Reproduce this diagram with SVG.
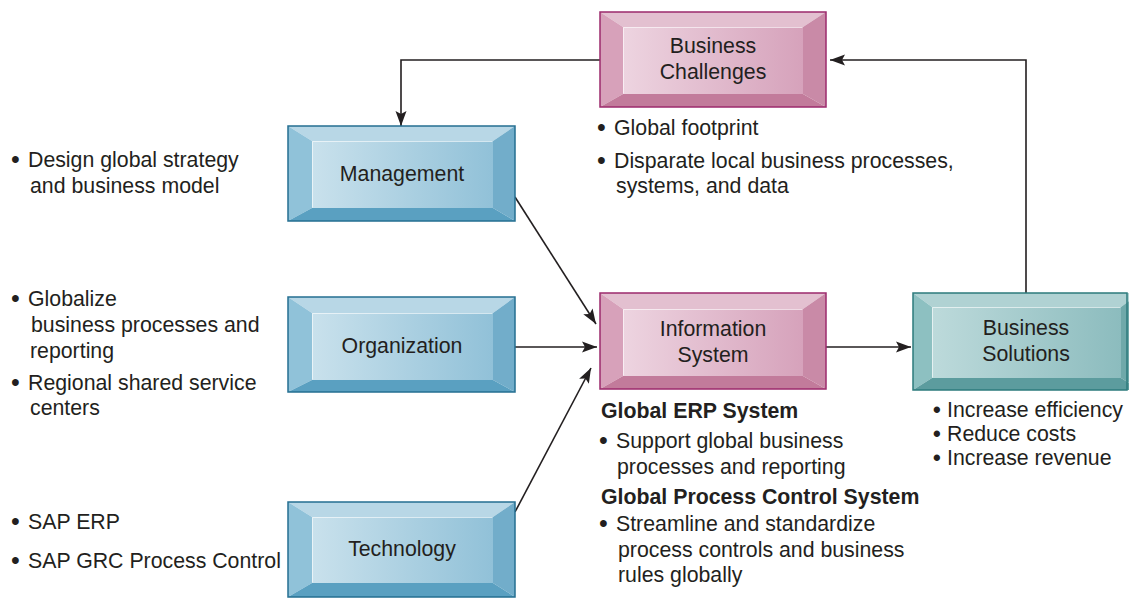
<svg xmlns="http://www.w3.org/2000/svg" width="1129" height="598" viewBox="0 0 1129 598">
<defs>
<linearGradient id="gPink" x1="0" y1="0" x2="1" y2="0"><stop offset="0" stop-color="#edd4e0"/><stop offset="1" stop-color="#d6a2bb"/></linearGradient>
<linearGradient id="gBlue" x1="0" y1="0" x2="1" y2="0"><stop offset="0" stop-color="#c9e1ec"/><stop offset="1" stop-color="#91c1d8"/></linearGradient>
<linearGradient id="gTeal" x1="0" y1="0" x2="1" y2="0"><stop offset="0" stop-color="#bddadb"/><stop offset="1" stop-color="#8cbcbe"/></linearGradient>
<marker id="arr" markerUnits="userSpaceOnUse" markerWidth="16" markerHeight="12" refX="15" refY="6" orient="auto"><path d="M0,0.5 L15,6 L0,11.5 L3,6 Z" fill="#231f20"/></marker>
</defs>
<style>
text{font-family:"Liberation Sans",Arial,Helvetica,sans-serif;font-size:21.3px;fill:#231f20}
.lbl{text-anchor:middle}
.b{font-weight:bold}
.bu{font-size:25px}
.bs{font-size:22px;font-weight:bold}
.pink .o{stroke:#9c2a6c}
.blue .o{stroke:#256f91}
.teal .o{stroke:#2c7b7c}
.o{stroke-width:1.5;fill:none}
.pink .t{fill:#e3c0d0}.pink .l{fill:#d7a1ba}.pink .r{fill:#c98aa7}.pink .bt{fill:#c27b9b}.pink .i{fill:url(#gPink)}
.blue .t{fill:#b8d7e6}.blue .l{fill:#90c2d9}.blue .r{fill:#72adca}.blue .bt{fill:#5aa0c1}.blue .i{fill:url(#gBlue)}
.teal .t{fill:#b0d2d3}.teal .l{fill:#8dc0c1}.teal .r{fill:#6fa9aa}.teal .bt{fill:#5c9c9e}.teal .i{fill:url(#gTeal)}
.hl{stroke:#ffffff;stroke-opacity:0.6;stroke-width:1;fill:none}
.c{stroke:#231f20;stroke-width:1.6;fill:none}
</style>

<g id="connectors">
<polyline class="c" points="600,60 401,60 401,126" marker-end="url(#arr)"/>
<polyline class="c" points="1026,293 1026,60 830,60" marker-end="url(#arr)"/>
<line class="c" x1="515" y1="197" x2="596" y2="324" marker-end="url(#arr)"/>
<line class="c" x1="515" y1="347" x2="597" y2="347" marker-end="url(#arr)"/>
<line class="c" x1="515" y1="512" x2="591" y2="368" marker-end="url(#arr)"/>
<line class="c" x1="826" y1="347" x2="911" y2="347" marker-end="url(#arr)"/>
</g>

<g id="business-challenges" class="pink">
<polygon class="t" points="600,12 826,12 803,27 623,27"/>
<polygon class="l" points="600,12 623,27 623,94 600,107"/>
<polygon class="r" points="826,12 826,107 803,94 803,27"/>
<polygon class="bt" points="600,107 623,94 803,94 826,107"/>
<rect class="i" x="623" y="27" width="180" height="67"/>
<polyline class="hl" points="623.5,93.5 623.5,27.5 802.5,27.5"/>
<rect class="o" x="600" y="12" width="226" height="95"/>
<text class="lbl" x="713" y="53">Business</text>
<text class="lbl" x="713" y="79">Challenges</text>
</g>

<g id="information-system" class="pink">
<polygon class="t" points="600,293 826,293 803,309 623,309"/>
<polygon class="l" points="600,293 623,309 623,376 600,389"/>
<polygon class="r" points="826,293 826,389 803,376 803,309"/>
<polygon class="bt" points="600,389 623,376 803,376 826,389"/>
<rect class="i" x="623" y="309" width="180" height="67"/>
<polyline class="hl" points="623.5,375.5 623.5,309.5 802.5,309.5"/>
<rect class="o" x="600" y="293" width="226" height="96"/>
<text class="lbl" x="713" y="336">Information</text>
<text class="lbl" x="713" y="362">System</text>
</g>

<g id="management" class="blue">
<polygon class="t" points="288,126 515,126 493,141 312,141"/>
<polygon class="l" points="288,126 312,141 312,208 288,221"/>
<polygon class="r" points="515,126 515,221 493,208 493,141"/>
<polygon class="bt" points="288,221 312,208 493,208 515,221"/>
<rect class="i" x="312" y="141" width="181" height="67"/>
<polyline class="hl" points="312.5,207.5 312.5,141.5 492.5,141.5"/>
<rect class="o" x="288" y="126" width="227" height="95"/>
<text class="lbl" x="402" y="181">Management</text>
</g>

<g id="organization" class="blue">
<polygon class="t" points="288,297 515,297 493,313 312,313"/>
<polygon class="l" points="288,297 312,313 312,380 288,392"/>
<polygon class="r" points="515,297 515,392 493,380 493,313"/>
<polygon class="bt" points="288,392 312,380 493,380 515,392"/>
<rect class="i" x="312" y="313" width="181" height="67"/>
<polyline class="hl" points="312.5,379.5 312.5,313.5 492.5,313.5"/>
<rect class="o" x="288" y="297" width="227" height="95"/>
<text class="lbl" x="402" y="353">Organization</text>
</g>

<g id="technology" class="blue">
<polygon class="t" points="288,502 515,502 493,517 312,517"/>
<polygon class="l" points="288,502 312,517 312,583 288,597"/>
<polygon class="r" points="515,502 515,597 493,583 493,517"/>
<polygon class="bt" points="288,597 312,583 493,583 515,597"/>
<rect class="i" x="312" y="517" width="181" height="66"/>
<polyline class="hl" points="312.5,582.5 312.5,517.5 492.5,517.5"/>
<rect class="o" x="288" y="502" width="227" height="95"/>
<text class="lbl" x="402" y="556">Technology</text>
</g>

<g id="business-solutions" class="teal">
<polygon class="t" points="913,293 1140,293 1121,307 932,307"/>
<polygon class="l" points="913,293 932,307 932,378 913,390"/>
<polygon class="r" points="1140,293 1140,390 1121,378 1121,307"/>
<polygon class="bt" points="913,390 932,378 1121,378 1140,390"/>
<rect class="i" x="932" y="307" width="189" height="71"/>
<polyline class="hl" points="932.5,377.5 932.5,307.5 1120.5,307.5"/>
<rect class="o" x="913" y="293" width="214" height="97"/>
<text class="lbl" x="1026" y="335">Business</text>
<text class="lbl" x="1026" y="361">Solutions</text>
</g>

<g id="notes-management">
<text class="bu" x="11" y="168">•</text><text x="28" y="167">Design global strategy</text>
<text x="30" y="193">and business model</text>
</g>
<g id="notes-organization">
<text class="bu" x="11" y="307">•</text><text x="28" y="306">Globalize</text>
<text x="31" y="332">business processes and</text>
<text x="30" y="358">reporting</text>
<text class="bu" x="11" y="391">•</text><text x="28" y="390">Regional shared service</text>
<text x="30" y="415">centers</text>
</g>
<g id="notes-technology">
<text class="bu" x="11" y="530">•</text><text x="28" y="529">SAP ERP</text>
<text class="bu" x="11" y="569">•</text><text x="28" y="568">SAP GRC Process Control</text>
</g>
<g id="notes-challenges">
<text class="bu" x="597" y="136">•</text><text x="614" y="135">Global footprint</text>
<text class="bu" x="597" y="169">•</text><text x="614" y="168">Disparate local business processes,</text>
<text x="616" y="193">systems, and data</text>
</g>
<g id="notes-system">
<text class="b" x="601" y="418">Global ERP System</text>
<text class="bu" x="599" y="449">•</text><text x="616" y="448">Support global business</text>
<text x="617" y="474">processes and reporting</text>
<text class="b" x="601" y="504">Global Process Control System</text>
<text class="bu" x="599" y="532">•</text><text x="616" y="531">Streamline and standardize</text>
<text x="618" y="557">process controls and business</text>
<text x="618" y="582">rules globally</text>
</g>
<g id="notes-solutions">
<text class="bs" x="933" y="417">•</text><text x="947" y="417">Increase efficiency</text>
<text class="bs" x="933" y="441">•</text><text x="947" y="441">Reduce costs</text>
<text class="bs" x="933" y="465">•</text><text x="947" y="465">Increase revenue</text>
</g>
</svg>
